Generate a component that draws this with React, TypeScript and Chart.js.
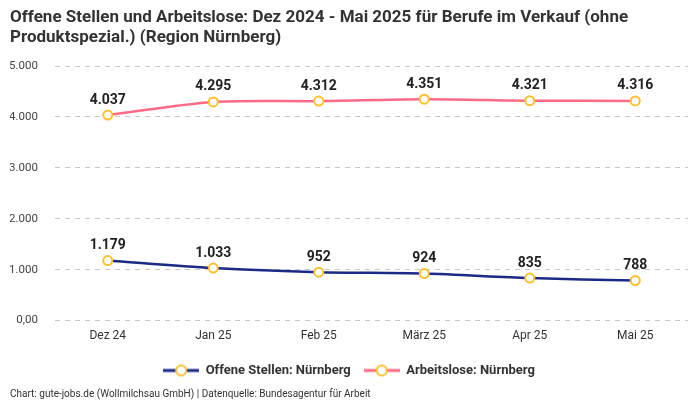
import React, { useEffect, useRef } from "react";
import { Chart, registerables } from "chart.js";

Chart.register(...registerables);

const categories = ["Dez 24", "Jan 25", "Feb 25", "März 25", "Apr 25", "Mai 25"];
const offeneStellen = [1179, 1033, 952, 924, 835, 788];
const arbeitslose = [4037, 4295, 4312, 4351, 4321, 4316];
const titleLines = [
  "Offene Stellen und Arbeitslose: Dez 2024 - Mai 2025 für Berufe im Verkauf (ohne",
  "Produktspezial.) (Region Nürnberg)",
];
const footerText = "Chart: gute-jobs.de (Wollmilchsau GmbH) | Datenquelle: Bundesagentur für Arbeit";

const FONT = "'Roboto', 'Noto Sans', sans-serif";
const BLUE = "#1a2a86";
const PINK = "#ff6b86";
const YELLOW = "#fbc02d";

function fmt(v: number): string {
  if (v === 0) return "0,00";
  return v.toLocaleString("de-DE");
}

function legendIcon(color: string): HTMLCanvasElement {
  const c = document.createElement("canvas");
  c.width = 36;
  c.height = 14;
  const ctx = c.getContext("2d")!;
  ctx.strokeStyle = color;
  ctx.lineWidth = 3;
  ctx.beginPath();
  ctx.moveTo(0, 7);
  ctx.lineTo(36, 7);
  ctx.stroke();
  ctx.beginPath();
  ctx.arc(18, 7, 5, 0, Math.PI * 2);
  ctx.fillStyle = "#fff";
  ctx.fill();
  ctx.strokeStyle = YELLOW;
  ctx.lineWidth = 2;
  ctx.stroke();
  return c;
}

const dataLabels = {
  id: "dataLabels",
  afterDatasetsDraw(chart: any) {
    const ctx = chart.ctx;
    ctx.save();
    ctx.font = `bold 14px ${FONT}`;
    ctx.fillStyle = "#222";
    ctx.textAlign = "center";
    ctx.textBaseline = "middle";
    chart.data.datasets.forEach((ds: any, i: number) => {
      const meta = chart.getDatasetMeta(i);
      meta.data.forEach((pt: any, j: number) => {
        ctx.fillText(fmt(ds.data[j]), pt.x, pt.y - 15);
      });
    });
    ctx.restore();
  },
};

export default function App() {
  const ref = useRef<HTMLCanvasElement>(null);
  useEffect(() => {
    document.body.style.margin = "0";
    const chart = new Chart(ref.current!, {
      type: "line",
      data: {
        labels: categories,
        datasets: [
          {
            label: "Offene Stellen: Nürnberg",
            data: offeneStellen,
            borderColor: BLUE,
            backgroundColor: BLUE,
            borderWidth: 2.5,
            tension: 0.3,
            pointRadius: 4.5,
            pointBorderWidth: 2,
            pointBackgroundColor: "#fff",
            pointBorderColor: YELLOW,
          },
          {
            label: "Arbeitslose: Nürnberg",
            data: arbeitslose,
            borderColor: PINK,
            backgroundColor: PINK,
            borderWidth: 2.5,
            tension: 0.3,
            pointRadius: 4.5,
            pointBorderWidth: 2,
            pointBackgroundColor: "#fff",
            pointBorderColor: YELLOW,
          },
        ],
      },
      options: {
        animation: false,
        responsive: true,
        maintainAspectRatio: false,
        layout: { padding: { left: 10, right: 12, top: 8, bottom: 0 } },
        scales: {
          x: {
            offset: true,
            grid: { display: false, drawTicks: false },
            border: { display: false },
            ticks: { color: "#333", font: { family: FONT, size: 12 }, padding: 8 },
          },
          y: {
            min: 0,
            max: 5000,
            afterFit: (scale: any) => {
              scale.width = 45;
            },
            ticks: {
              stepSize: 1000,
              color: "#444",
              font: { family: FONT, size: 11.5 },
              padding: 17,
              callback: (v: any) => fmt(Number(v)),
            },
            grid: { color: "#c8c8c8", drawTicks: false },
            border: { display: false, dash: [5, 5] },
          },
        },
        plugins: {
          title: {
            display: true,
            text: titleLines,
            align: "start",
            color: "#333",
            font: { family: FONT, size: 17, weight: "bold", lineHeight: 1.15 },
            padding: { top: 0, bottom: 19 },
          },
          subtitle: {
            display: true,
            position: "bottom",
            text: footerText,
            align: "start",
            color: "#333",
            font: { family: FONT, size: 10 },
            padding: { top: 1, bottom: 0 },
          },
          legend: {
            position: "bottom",
            labels: {
              usePointStyle: true,
              pointStyleWidth: 36,
              color: "#333",
              font: { family: FONT, size: 13, weight: "bold" },
              padding: 13,
              generateLabels: (c: any) =>
                c.data.datasets.map((ds: any, i: number) => ({
                  text: ds.label,
                  pointStyle: legendIcon(ds.borderColor),
                  fillStyle: ds.borderColor,
                  strokeStyle: ds.borderColor,
                  lineWidth: 0,
                  hidden: false,
                  datasetIndex: i,
                  fontColor: "#333",
                })),
            },
          },
          tooltip: { enabled: false },
        },
      },
      plugins: [dataLabels],
    });
    return () => chart.destroy();
  }, []);
  return (
    <div style={{ width: 700, height: 400, position: "relative" }}>
      <canvas ref={ref} />
    </div>
  );
}
